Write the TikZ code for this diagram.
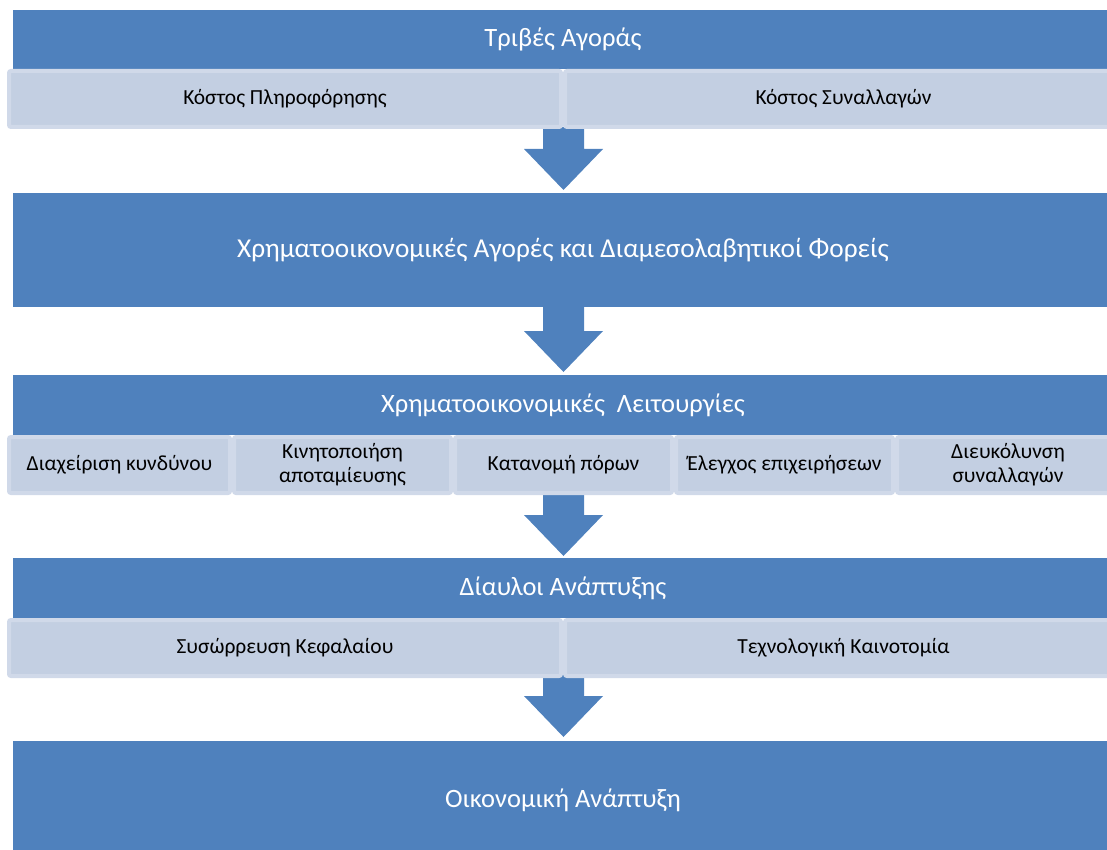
\documentclass[tikz,border=0pt]{standalone}
\usepackage{fontspec}
\setmainfont{Carlito}
\usetikzlibrary{calc}
\definecolor{hdr}{HTML}{4F81BD}
\definecolor{subf}{HTML}{C3CFE2}
\definecolor{subd}{HTML}{D0D9E9}
\tikzset{
  hdrbox/.style={fill=hdr, draw=none, inner sep=0pt, text=white,
    font=\fontsize{26.5}{30}\selectfont},
  subbox/.style={fill=subf, draw=subd, line width=4pt, rounded corners=2pt,
    inner sep=0pt, text=black, align=center,
    font=\fontsize{21.5}{24}\selectfont, minimum height=56pt},
}
% block arrow between two named coordinates (shaft 41, head 79 x 41)
\newcommand{\blockarr}[2]{%
  \fill[hdr] let \p1=(#1), \p2=(#2) in
    (\x1-20.5pt,\y1) -- (\x1+20.5pt,\y1) -- (\x1+20.5pt,\y2+41pt)
    -- (\x1+39.5pt,\y2+41pt) -- (\x2,\y2) -- (\x1-39.5pt,\y2+41pt)
    -- (\x1-20.5pt,\y2+41pt) -- cycle;}
\begin{document}
\begin{tikzpicture}[x=1pt,y=-1pt]
\useasboundingbox (0,0) rectangle (1107,850);
\clip (0,0) rectangle (1107,850);

% ---- arrows (drawn first, boxes overlap their ends)
\coordinate (a1s) at (563.5,127);
\coordinate (a1e) at (563.5,190);
\coordinate (a2s) at (563.5,305);
\coordinate (a2e) at (563.5,372);
\coordinate (a3s) at (563.5,491);
\coordinate (a3e) at (563.5,556);
\coordinate (a4s) at (563.5,675);
\coordinate (a4e) at (563.5,737);
\blockarr{a1s}{a1e}
\blockarr{a2s}{a2e}
\blockarr{a3s}{a3e}
\blockarr{a4s}{a4e}

% ---- block 1
\node[hdrbox, minimum width=1110pt, minimum height=59pt] (b1) at (568,39.5) {\hspace*{-10pt}Τριβές Αγοράς};
\node[subbox, minimum width=552pt] (b1a) at (285,99) {Κόστος Πληροφόρησης};
\node[subbox, minimum width=557pt] (b1b) at (843.5,99) {Κόστος Συναλλαγών};

% ---- block 2
\node[hdrbox, minimum width=1100pt, minimum height=114pt, font=\fontsize{27.3}{31}\selectfont] (b2) at (563,250) {Χρηματοοικονομικές Αγορές και Διαμεσολαβητικοί Φορείς};

% ---- block 3
\node[hdrbox, minimum width=1100pt, minimum height=60pt] (b3) at (563,405) {Χρηματοοικονομικές~~Λειτουργίες};
\node[subbox, minimum width=221pt] (b3a) at (119.5,465) {Διαχείριση κυνδύνου};
\node[subbox, minimum width=217pt] (b3b) at (342.5,465) {Κινητοποιήση\\αποταμίευσης};
\node[subbox, minimum width=217pt] (b3c) at (563.5,465) {Κατανομή πόρων};
\node[subbox, minimum width=217pt] (b3d) at (784.5,465) {Έλεγχος επιχειρήσεων};
\node[subbox, minimum width=222pt] (b3e) at (1008,465) {Διευκόλυνση\\συναλλαγών};

% ---- block 4
\node[hdrbox, minimum width=1100pt, minimum height=60pt] (b4) at (563,588) {Δίαυλοι Ανάπτυξης};
\node[subbox, minimum width=552pt] (b4a) at (285,648) {Συσώρρευση Κεφαλαίου};
\node[subbox, minimum width=557pt] (b4b) at (843.5,648) {Τεχνολογική Καινοτομία};

% ---- block 5
\node[hdrbox, minimum width=1100pt, minimum height=119pt] (b5) at (563,800.5) {Οικονομική Ανάπτυξη};
\end{tikzpicture}
\end{document}
